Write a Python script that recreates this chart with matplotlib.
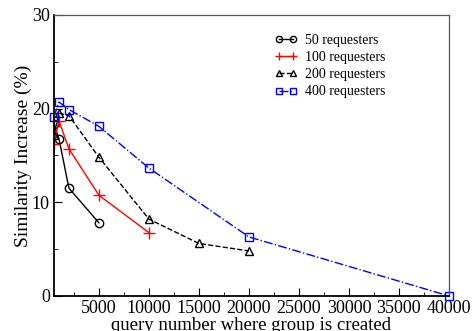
import matplotlib
matplotlib.use("Agg")
import matplotlib.pyplot as plt
from matplotlib.ticker import MultipleLocator

plt.rcParams['font.family'] = ['Liberation Serif', 'DejaVu Serif']

# data
x50 = [500, 1000, 2000, 5000]
y50 = [18.3, 16.8, 11.5, 7.8]

x100 = [500, 1000, 2000, 5000, 10000]
y100 = [16.2, 18.7, 15.7, 10.75, 6.75]

x200 = [500, 1000, 2000, 5000, 10000, 15000, 20000]
y200 = [17.2, 19.5, 19.25, 14.8, 8.2, 5.6, 4.8]

x400 = [500, 1000, 2000, 5000, 10000, 20000, 40000]
y400 = [19.1, 20.7, 19.9, 18.1, 13.65, 6.3, 0.0]

fig = plt.figure(figsize=(4.73, 3.31), dpi=100)
ax = fig.add_axes([0.114, 0.106, 0.835, 0.849])

ax.plot(x50, y50, '-', color='black', lw=1, marker='o', ms=6,
        mfc='none', mec='black', mew=1, label='50 requesters')
ax.plot(x100, y100, '-', color='red', lw=1, marker='+', ms=8,
        mew=1, label='100 requesters')
ax.plot(x200, y200, '--', color='black', lw=1, marker='^', ms=6,
        mfc='none', mec='black', mew=1, label='200 requesters')
ax.plot(x400, y400, '-.', color='blue', lw=1, marker='s', ms=5.5,
        mfc='none', mec='blue', mew=1, label='400 requesters', clip_on=False)

ax.set_xlim(500, 40000)
ax.set_ylim(0, 30)
ax.xaxis.set_major_locator(MultipleLocator(5000))
ax.xaxis.set_minor_locator(MultipleLocator(2500))
ax.yaxis.set_major_locator(MultipleLocator(10))
ax.yaxis.set_minor_locator(MultipleLocator(5))
ax.tick_params(which='both', direction='in', labelsize=13, pad=3)
ax.tick_params(which='major', length=6)
ax.tick_params(which='minor', length=3)

for side in ['top', 'right']:
    ax.spines[side].set_color('#555555')
    ax.spines[side].set_linewidth(0.9)
for side in ['left', 'bottom']:
    ax.spines[side].set_linewidth(1.3)

ax.set_xlabel('query number where group is created', fontsize=13.5, labelpad=0)
ax.set_ylabel('Similarity Increase (%)', fontsize=14, labelpad=0)

ax.legend(loc='upper left', bbox_to_anchor=(0.545, 0.952), frameon=False,
          fontsize=10, handlelength=1.65, handletextpad=0.5, numpoints=2,
          markerscale=0.75, labelspacing=0.3, borderaxespad=0)

fig.savefig('out.png', dpi=100)
